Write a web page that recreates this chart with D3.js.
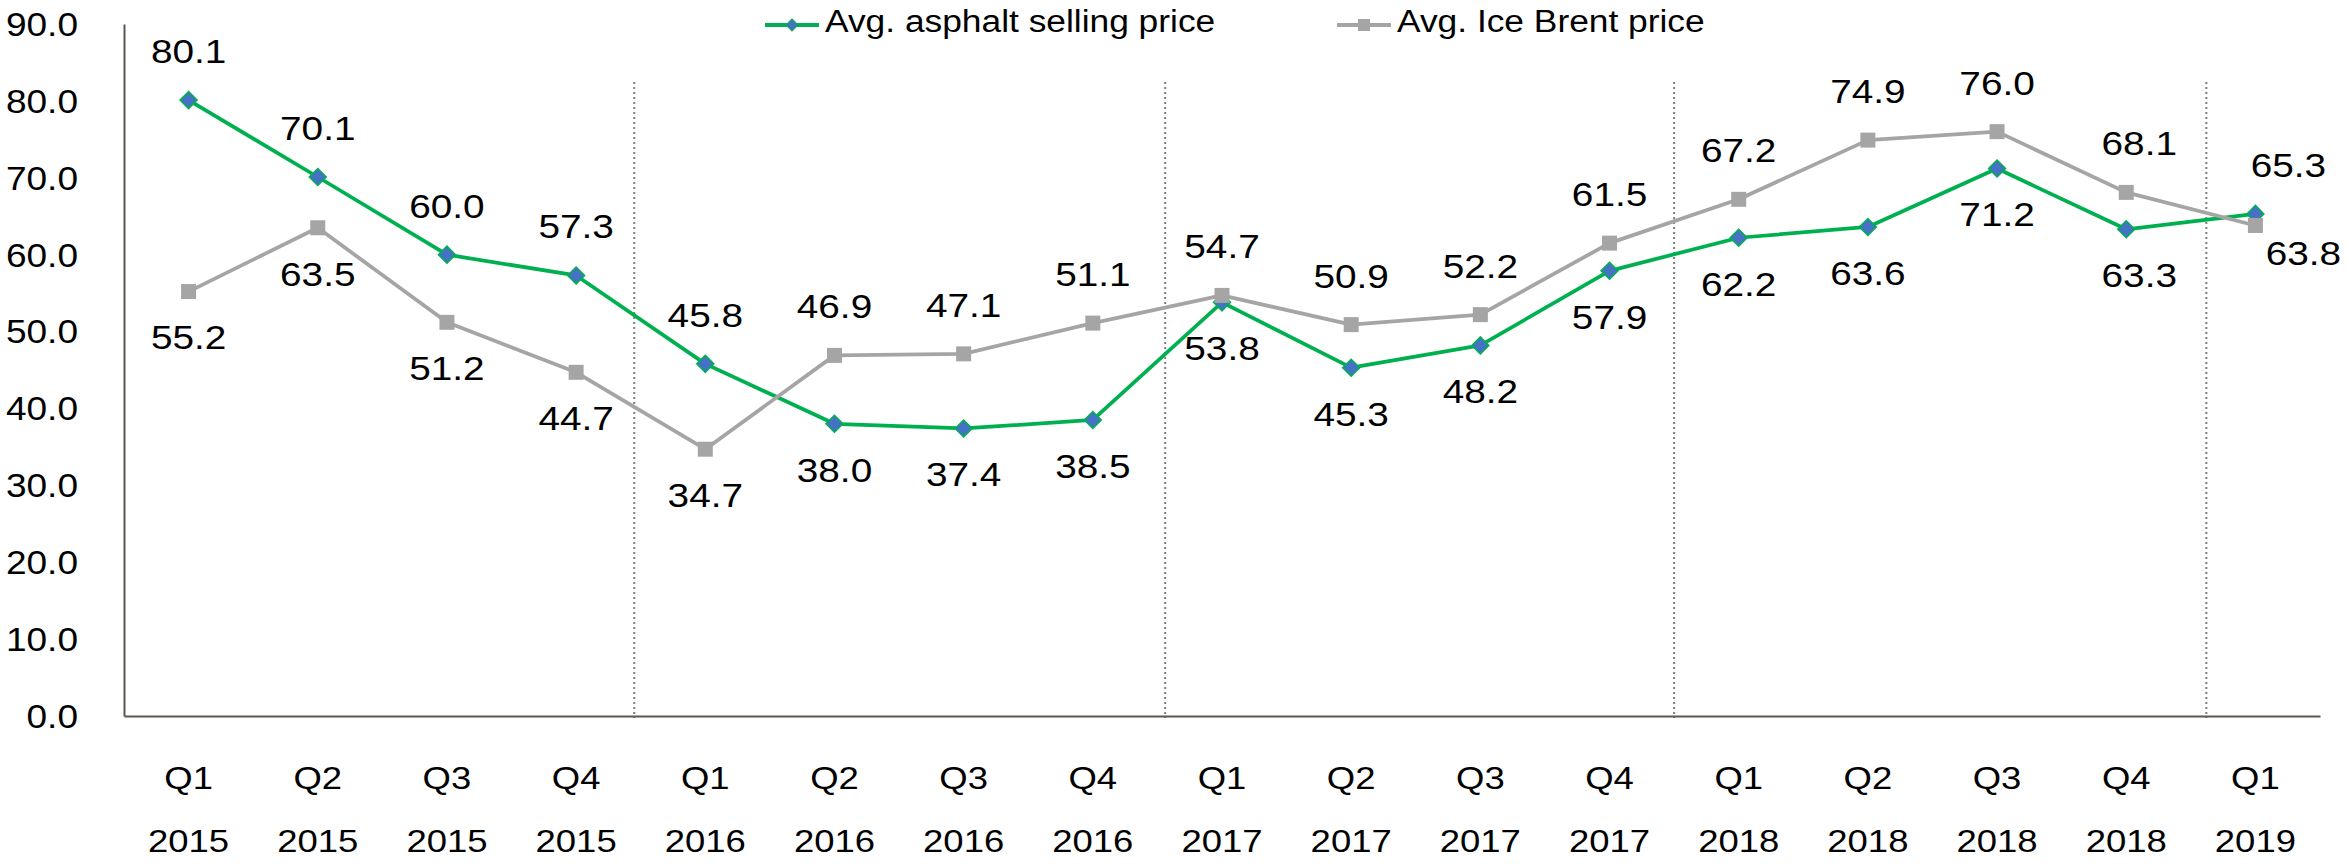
<!DOCTYPE html>
<html>
<head>
<meta charset="utf-8">
<script src="https://cdn.jsdelivr.net/npm/d3@7"></script>
<style>
    body { margin: 0; background: #fff; }
    svg { display: block; font-family: "Liberation Sans", Arial, sans-serif; }
    .axis path { stroke: #5e5450; stroke-width: 2; }
    .axis text { fill: #000; }
</style>
</head>
<body>
<svg id="chart" width="2348" height="864"></svg>
<script>
const categories = ["Q1 2015", "Q2 2015", "Q3 2015", "Q4 2015",
    "Q1 2016", "Q2 2016", "Q3 2016", "Q4 2016",
    "Q1 2017", "Q2 2017", "Q3 2017", "Q4 2017",
    "Q1 2018", "Q2 2018", "Q3 2018", "Q4 2018",
    "Q1 2019"];
const asphalt = [80.1, 70.1, 60.0, 57.3, 45.8, 38.0, 37.4, 38.5, 53.8, 45.3, 48.2, 57.9, 62.2, 63.6, 71.2, 63.3, 65.3];
const brent = [55.2, 63.5, 51.2, 44.7, 34.7, 46.9, 47.1, 51.1, 54.7, 50.9, 52.2, 61.5, 67.2, 74.9, 76.0, 68.1, 63.8];
const yTicks = [0, 10, 20, 30, 40, 50, 60, 70, 80, 90];
// year separators, in category index units
const separators = [3.45, 7.56, 11.5, 15.62];
const seriesNames = ["Avg. asphalt selling price", "Avg. Ice Brent price"];

const green = "#00b050";
const grey = "#a5a5a5";
const stretch = 1.14; // the original font is drawn wider than Arial

const svg = d3.select("#chart");
const plot = { left: 124, right: 2320, top: 24, bottom: 716 };

const xScale = d3.scaleBand()
    .domain(categories)
    .range([plot.left, plot.right]);
const half = xScale.bandwidth() / 2;
const xPos = d => xScale(d) + half;

const yScale = d3.scaleLinear()
    .domain([0, 90])
    .range([plot.bottom, plot.top]);

// index -> x, for the dotted year separators
const xIndex = d3.scaleLinear()
    .domain([0, categories.length - 1])
    .range([xPos(categories[0]), xPos(categories[categories.length - 1])]);

svg.append("g")
    .selectAll("line")
    .data(separators)
    .join("line")
    .attr("x1", d => xIndex(d))
    .attr("x2", d => xIndex(d))
    .attr("y1", 82)
    .attr("y2", 718)
    .attr("stroke", "#7f7f7f")
    .attr("stroke-width", 2)
    .attr("stroke-dasharray", "2,3");

// axes
const yAxis = svg.append("g")
    .attr("class", "axis")
    .attr("transform", "translate(" + plot.left + ",0)")
    .call(d3.axisLeft(yScale).tickValues(yTicks).tickSize(0).tickSizeOuter(0).tickFormat(d3.format(".1f")));
yAxis.selectAll(".tick text")
    .attr("x", 0)
    .attr("dy", "0.35em")
    .attr("font-size", 32.5)
    .attr("transform", "translate(-46,0) scale(" + stretch + ",1)");

const xAxis = svg.append("g")
    .attr("class", "axis")
    .attr("transform", "translate(0," + plot.bottom + ")")
    .call(d3.axisBottom(xScale).tickSize(0).tickSizeOuter(0).tickFormat(d => d.split(" ")[0]));
xAxis.selectAll(".tick text")
    .attr("y", 0)
    .attr("dy", 0)
    .attr("font-size", 32)
    .attr("transform", "translate(0,73) scale(" + stretch + ",1)");
xAxis.selectAll(".tick")
    .append("text")
    .attr("fill", "#000")
    .attr("text-anchor", "middle")
    .attr("font-size", 32)
    .attr("transform", "translate(0,136) scale(" + stretch + ",1)")
    .text(d => d.split(" ")[1]);

// series
const line = d3.line()
    .x((d, i) => xPos(categories[i]))
    .y(d => yScale(d));

const diamond = d3.symbol(d3.symbolSquare, 144);
const square = d3.symbol(d3.symbolSquare, 225);

function drawSeries(values, color, marker, markerAttrs) {
    const g = svg.append("g");
    g.append("path")
        .datum(values)
        .attr("fill", "none")
        .attr("stroke", color)
        .attr("stroke-width", 3.75)
        .attr("stroke-linejoin", "round")
        .attr("d", line);
    const m = g.selectAll(".marker")
        .data(values)
        .join("path")
        .attr("class", "marker")
        .attr("d", marker)
        .attr("transform", (d, i) => "translate(" + xPos(categories[i]) + "," + yScale(d) + ")" + markerAttrs.rotate);
    m.attr("fill", markerAttrs.fill)
        .attr("stroke", markerAttrs.stroke || "none")
        .attr("stroke-width", markerAttrs.strokeWidth || 0);
}

drawSeries(asphalt, green, diamond, { fill: "#4472c4", stroke: green, strokeWidth: 1.5, rotate: " rotate(45)" });
drawSeries(brent, grey, square, { fill: grey, rotate: "" });

// data labels: the higher series gets its label above, the other below
const labels = svg.append("g").attr("font-size", 34).attr("fill", "#000").attr("text-anchor", "middle");
const last = categories.length - 1;

function drawLabels(values, other, nudge) {
    labels.append("g")
        .selectAll("text")
        .data(values)
        .join("text")
        .attr("transform", (d, i) => {
            const above = d >= other[i];
            let x = xPos(categories[i]);
            let y = yScale(d) + (above ? -49 : 46);
            if (i === last) { x += nudge[0]; y += nudge[1]; }
            if (i === last - 1) x += 13;
            return "translate(" + x + "," + y + ") scale(" + stretch + ",1)";
        })
        .attr("dy", "0.35em")
        .text(d => d.toFixed(1));
}

drawLabels(asphalt, brent, [33, 0]);
drawLabels(brent, asphalt, [48, -18]);

// legend
const legend = svg.append("g").attr("font-size", 31);
const legendItems = [
    { name: seriesNames[0], color: green, x: 765, marker: d3.symbol(d3.symbolSquare, 72), rotate: " rotate(45)", fill: "#4472c4" },
    { name: seriesNames[1], color: grey, x: 1337, marker: d3.symbol(d3.symbolSquare, 144), rotate: "", fill: grey }
];
const item = legend.selectAll("g")
    .data(legendItems)
    .join("g")
    .attr("transform", d => "translate(" + d.x + ",25)");
item.append("line")
    .attr("x1", 0).attr("x2", 54)
    .attr("stroke", d => d.color)
    .attr("stroke-width", 4);
item.append("path")
    .attr("d", d => d.marker())
    .attr("transform", d => "translate(27,0)" + d.rotate)
    .attr("fill", d => d.fill)
    .attr("stroke", d => d.rotate ? d.color : "none")
    .attr("stroke-width", 1);
item.append("text")
    .attr("transform", "translate(60,7) scale(" + stretch + ",1)")
    .text(d => d.name);
</script>
</body>
</html>
